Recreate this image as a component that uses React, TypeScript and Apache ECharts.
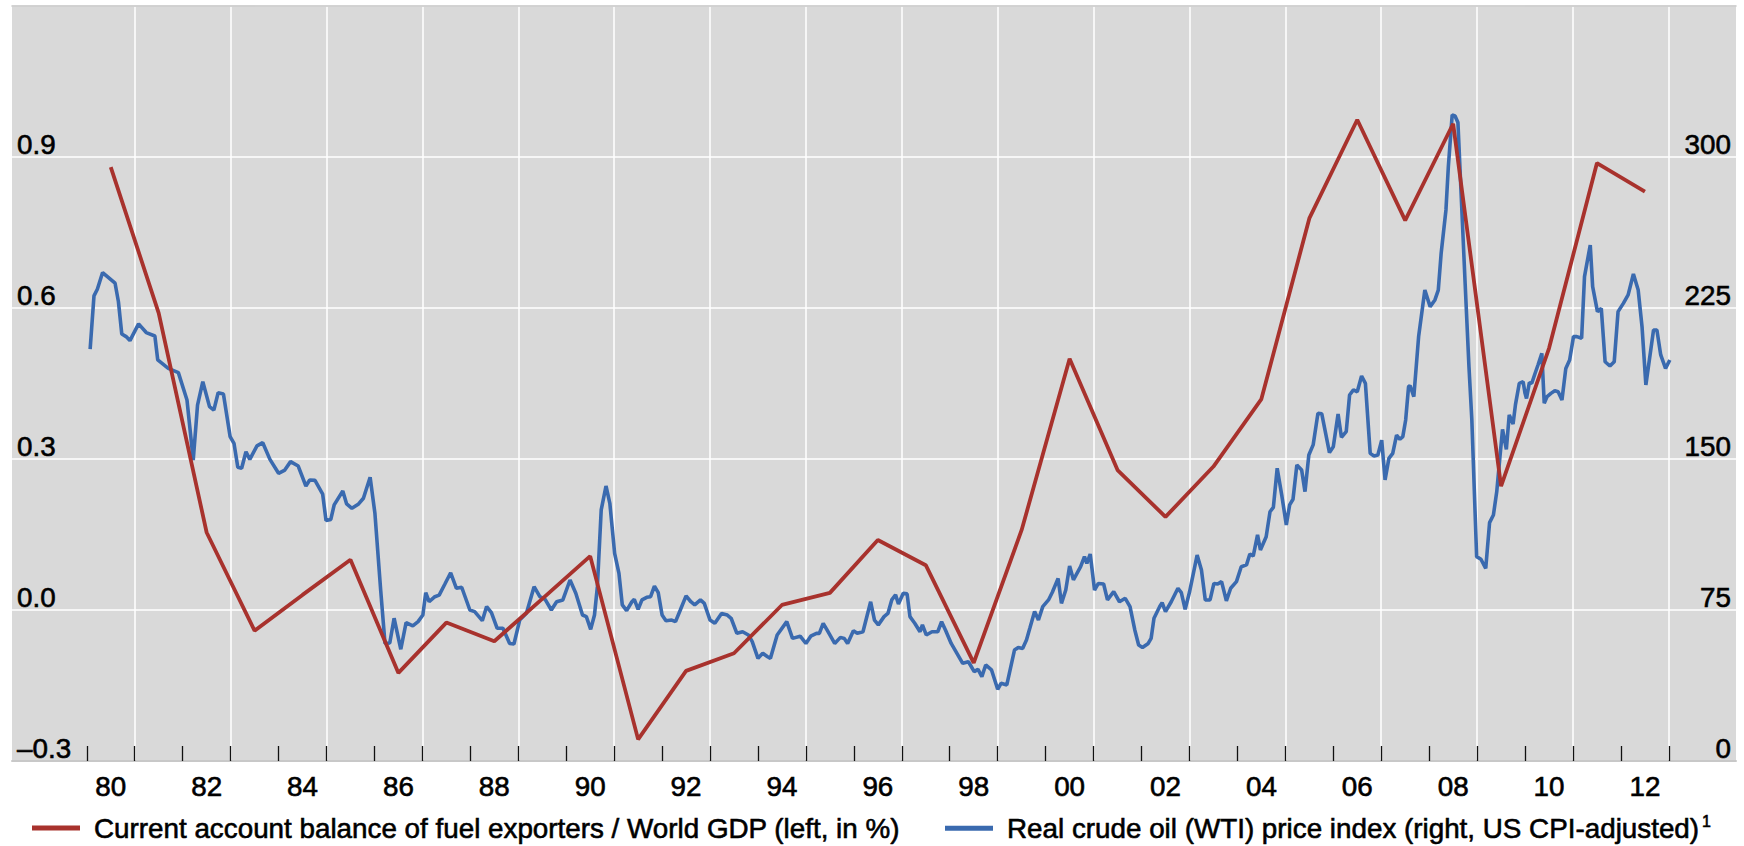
import React, { useEffect, useRef } from 'react';
import * as echarts from 'echarts';

// ---- Data -------------------------------------------------------------
const caName = 'Current account balance of fuel exporters / World GDP (left, in %)';
const oilName = 'Real crude oil (WTI) price index (right, US CPI-adjusted)';

const caYears = [1980, 1981, 1982, 1983, 1984, 1985, 1986, 1987, 1988, 1989, 1990, 1991, 1992, 1993, 1994, 1995, 1996,
  1997, 1998, 1999, 2000, 2001, 2002, 2003, 2004, 2005, 2006, 2007, 2008, 2009, 2010, 2011, 2012];
const caBalance = [0.88, 0.59, 0.154, -0.041, 0.03, 0.1, -0.125, -0.025, -0.062, 0.022, 0.107, -0.257, -0.121, -0.086,
  0.01, 0.034, 0.139, 0.089, -0.105, 0.159, 0.499, 0.278, 0.185, 0.285, 0.419, 0.778, 0.974, 0.774, 0.966, 0.246, 0.52,
  0.888, 0.831];

// Real crude oil price index: [decimal year, index]
const oil1980s: [number, number][] = [
  [1980.07, 204.6], [1980.15, 231.0], [1980.22, 234.3], [1980.33, 242.6], [1980.59, 237.3], [1980.66, 228.1],
  [1980.73, 212.1], [1980.82, 210.8], [1980.9, 208.8], [1981.08, 217.1], [1981.24, 212.8], [1981.42, 211.1],
  [1981.48, 199.2], [1981.7, 195.0], [1981.91, 192.9], [1982.09, 179.3], [1982.22, 149.5], [1982.31, 176.8],
  [1982.42, 188.4], [1982.56, 176.0], [1982.65, 174.3], [1982.74, 182.9], [1982.85, 182.3], [1982.99, 161.1],
  [1983.07, 157.8], [1983.15, 145.9], [1983.23, 145.4], [1983.32, 153.6], [1983.4, 149.8], [1983.55, 156.5],
  [1983.67, 158.1], [1983.82, 149.8], [1984.0, 142.9], [1984.13, 144.5], [1984.25, 148.7], [1984.41, 146.5],
  [1984.57, 136.6], [1984.65, 139.6], [1984.76, 139.4], [1984.92, 132.6], [1984.99, 119.4], [1985.09, 120.0],
  [1985.16, 127.2], [1985.34, 134.1], [1985.42, 127.7], [1985.53, 125.5], [1985.67, 127.7], [1985.77, 130.5],
  [1985.91, 140.9], [1986.01, 123.0], [1986.13, 84.9], [1986.22, 58.4], [1986.32, 58.6], [1986.41, 70.9],
  [1986.55, 55.5], [1986.66, 68.7], [1986.8, 67.1], [1986.91, 69.2], [1987.01, 72.5], [1987.07, 83.6],
  [1987.14, 79.1], [1987.26, 81.6], [1987.35, 82.4], [1987.47, 87.9], [1987.59, 93.5], [1987.71, 85.8],
  [1987.82, 86.3], [1987.99, 75.0], [1988.09, 74.2], [1988.25, 69.7], [1988.34, 76.7], [1988.44, 73.7],
  [1988.56, 65.9], [1988.68, 65.9], [1988.82, 58.4], [1988.91, 58.1], [1989.03, 70.0], [1989.17, 73.4],
  [1989.33, 86.6], [1989.45, 81.6], [1989.56, 80.3], [1989.69, 75.0], [1989.8, 79.1], [1989.93, 80.0],
];
const oil1990s: [number, number][] = [
  [1990.08, 89.9], [1990.2, 83.3], [1990.34, 72.5], [1990.42, 71.7], [1990.51, 65.4], [1990.59, 72.5],
  [1990.65, 86.6], [1990.73, 124.7], [1990.83, 136.6], [1990.91, 128.0], [1991.01, 103.1], [1991.1, 93.2],
  [1991.17, 77.5], [1991.26, 74.7], [1991.37, 79.1], [1991.42, 80.3], [1991.5, 75.3], [1991.58, 80.0],
  [1991.68, 81.3], [1991.76, 81.6], [1991.84, 86.9], [1991.92, 83.6], [1992.0, 72.5], [1992.08, 69.7],
  [1992.2, 70.0], [1992.28, 69.2], [1992.38, 75.0], [1992.5, 82.0], [1992.6, 79.1], [1992.68, 77.5],
  [1992.8, 80.0], [1992.88, 78.3], [1993.0, 70.0], [1993.1, 68.4], [1993.24, 73.3], [1993.36, 72.5],
  [1993.44, 70.9], [1993.56, 63.4], [1993.68, 64.2], [1993.8, 62.6], [1993.88, 59.3], [1994.0, 51.0],
  [1994.1, 53.5], [1994.2, 51.8], [1994.26, 51.0], [1994.4, 62.6], [1994.6, 69.2], [1994.72, 60.9],
  [1994.88, 62.0], [1995.0, 58.4], [1995.1, 62.0], [1995.22, 63.4], [1995.28, 63.4], [1995.36, 68.4],
  [1995.44, 65.1], [1995.6, 58.4], [1995.72, 61.4], [1995.8, 60.9], [1995.87, 58.4], [1995.99, 64.7],
  [1996.07, 63.4], [1996.19, 64.2], [1996.35, 79.1], [1996.43, 70.0], [1996.51, 67.6], [1996.63, 71.7],
  [1996.71, 73.3], [1996.79, 80.0], [1996.87, 82.5], [1996.93, 78.0], [1997.03, 83.3], [1997.11, 83.0],
  [1997.17, 71.7], [1997.27, 68.4], [1997.38, 64.2], [1997.43, 67.6], [1997.51, 62.6], [1997.63, 64.2],
  [1997.75, 64.2], [1997.83, 69.2], [1997.91, 65.1], [1998.03, 58.4], [1998.15, 53.5], [1998.27, 48.5],
  [1998.39, 49.3], [1998.51, 44.4], [1998.59, 45.5], [1998.67, 41.9], [1998.75, 47.7], [1998.87, 45.3],
  [1999.0, 35.6], [1999.07, 38.6], [1999.19, 37.8], [1999.35, 55.1], [1999.43, 56.4], [1999.52, 55.9],
  [1999.6, 60.1], [1999.67, 65.9], [1999.77, 74.2], [1999.85, 70.0], [1999.94, 76.7],
];
const oil2000s: [number, number][] = [
  [2000.06, 80.0], [2000.14, 83.8], [2000.26, 90.7], [2000.33, 78.3], [2000.42, 84.9], [2000.5, 96.9],
  [2000.58, 90.0], [2000.73, 96.5], [2000.81, 101.5], [2000.86, 98.2], [2000.93, 102.8], [2001.02, 84.9],
  [2001.1, 88.2], [2001.21, 87.9], [2001.29, 80.0], [2001.42, 84.1], [2001.54, 79.1], [2001.66, 80.8],
  [2001.76, 76.7], [2001.86, 65.1], [2001.94, 57.6], [2002.02, 56.4], [2002.14, 58.4], [2002.2, 60.9],
  [2002.26, 70.9], [2002.38, 76.7], [2002.43, 78.6], [2002.5, 74.2], [2002.62, 79.1], [2002.76, 85.8],
  [2002.83, 83.6], [2002.91, 75.3], [2003.0, 83.8], [2003.16, 102.3], [2003.25, 94.9], [2003.33, 80.0],
  [2003.43, 80.0], [2003.51, 88.2], [2003.59, 87.9], [2003.67, 89.1], [2003.77, 79.5], [2003.86, 85.8],
  [2003.98, 89.1], [2004.08, 96.5], [2004.19, 97.4], [2004.26, 102.8], [2004.33, 101.8], [2004.42, 112.3],
  [2004.48, 104.8], [2004.6, 111.4], [2004.68, 123.8], [2004.75, 126.0], [2004.83, 145.4], [2004.93, 131.3],
  [2005.02, 117.2], [2005.09, 127.2], [2005.16, 130.0], [2005.24, 147.0], [2005.34, 144.5], [2005.41, 133.8],
  [2005.49, 152.0], [2005.58, 157.0], [2005.68, 172.7], [2005.76, 172.4], [2005.92, 153.2], [2006.0, 156.1],
  [2006.1, 172.3], [2006.17, 160.8], [2006.27, 163.6], [2006.34, 181.8], [2006.42, 184.3], [2006.5, 183.4],
  [2006.59, 191.2], [2006.67, 187.6], [2006.77, 152.8], [2006.85, 151.5], [2006.93, 152.0], [2007.01, 159.4],
  [2007.08, 139.6], [2007.16, 150.3], [2007.24, 152.8], [2007.32, 161.9], [2007.39, 159.8], [2007.45, 161.1],
  [2007.51, 169.4], [2007.57, 185.9], [2007.6, 186.5], [2007.68, 181.0], [2007.78, 210.8], [2007.91, 233.9],
  [2008.02, 225.7], [2008.12, 229.0], [2008.19, 233.9], [2008.25, 252.2], [2008.35, 273.7], [2008.4, 295.2],
  [2008.48, 320.9], [2008.54, 320.4], [2008.6, 317.1], [2008.75, 237.3], [2008.83, 195.9], [2008.89, 169.4],
  [2008.99, 101.5], [2009.08, 100.2], [2009.18, 95.7], [2009.26, 118.4], [2009.34, 122.2], [2009.41, 133.8],
  [2009.47, 149.5], [2009.53, 164.7], [2009.61, 154.8], [2009.67, 171.9], [2009.75, 167.4], [2009.8, 177.0],
  [2009.88, 187.6], [2009.96, 188.4],
];
const oil2010s: [number, number][] = [
  [2010.0, 182.6], [2010.03, 180.1], [2010.09, 187.9], [2010.14, 187.6], [2010.21, 192.6], [2010.27, 196.7],
  [2010.35, 202.5], [2010.4, 177.7], [2010.46, 181.0], [2010.54, 182.6], [2010.62, 183.9], [2010.69, 183.4],
  [2010.77, 179.3], [2010.85, 195.0], [2010.93, 199.2], [2011.01, 210.8], [2011.08, 210.8], [2011.18, 210.0],
  [2011.24, 240.6], [2011.36, 256.3], [2011.41, 235.6], [2011.51, 223.2], [2011.59, 224.8], [2011.67, 198.3],
  [2011.77, 196.2], [2011.86, 198.3], [2011.94, 223.2], [2012.05, 227.3], [2012.15, 231.5], [2012.26, 241.9],
  [2012.36, 233.9], [2012.44, 215.7], [2012.52, 186.8], [2012.68, 214.1], [2012.75, 214.1], [2012.83, 201.7],
  [2012.93, 195.0], [2013.02, 199.2],
];

// Axis tick labels
const xLabelYears = [1980, 1982, 1984, 1986, 1988, 1990, 1992, 1994, 1996, 1998, 2000, 2002, 2004, 2006, 2008, 2010, 2012];
const xLabelTexts = ['80', '82', '84', '86', '88', '90', '92', '94', '96', '98', '00', '02', '04', '06', '08', '10', '12'];
const tickYears = [1980, 1981, 1982, 1983, 1984, 1985, 1986, 1987, 1988, 1989, 1990, 1991, 1992, 1993, 1994, 1995, 1996,
  1997, 1998, 1999, 2000, 2001, 2002, 2003, 2004, 2005, 2006, 2007, 2008, 2009, 2010, 2011, 2012, 2013];
const gridYears = [1981, 1983, 1985, 1987, 1989, 1991, 1993, 1995, 1997, 1999, 2001, 2003, 2005, 2007, 2009, 2011, 2013];

// ---- Styling constants ------------------------------------------------
const FONT = 'Liberation Sans, Arial, Helvetica, sans-serif';
const FS = 27.8;
const RED = '#a8322d';
const BLUE = '#3a6aaf';
const X_MIN = 1978.44;
const X_MAX = 2014.4;
const heavy = { textBorderColor: '#000', textBorderWidth: 0.6 };

export default function App() {
  const ref = useRef<HTMLDivElement>(null);

  useEffect(() => {
    if (!ref.current) return;
    const chart = echarts.init(ref.current, undefined, { renderer: 'svg' });

    const caData = caYears.map((y, i) => [y + 0.5, caBalance[i]]);
    const oilData = [...oil1980s, ...oil1990s, ...oil2000s, ...oil2010s];

    const labelMap: Record<string, string> = {};
    xLabelYears.forEach((y, i) => { labelMap[(y + 0.5).toFixed(1)] = xLabelTexts[i]; });

    const option: any = {
      animation: false,
      backgroundColor: '#ffffff',
      textStyle: { fontFamily: FONT },
      grid: {
        left: 12, right: 8, top: 6, bottom: 85,
        show: true, backgroundColor: '#d9d9d9', borderWidth: 0,
        containLabel: false, outerBoundsMode: 'none',
      },
      legend: [
        {
          data: [caName], left: 32, top: 813, padding: 0,
          itemWidth: 48, itemHeight: 5, icon: 'rect', selectedMode: false,
          textStyle: { fontSize: FS, fontFamily: FONT, color: '#000', lineHeight: 30, padding: [0, 0, 0, 9], ...heavy },
        },
        {
          data: [oilName], left: 945, top: 813, padding: 0,
          itemWidth: 48, itemHeight: 5, icon: 'rect', selectedMode: false,
          formatter: (n: string) => `{t|${n}}{s|1}`,
          textStyle: {
            fontSize: FS, fontFamily: FONT, color: '#000', lineHeight: 30, padding: [0, 0, 0, 9],
            rich: {
              t: { fontSize: FS, fontFamily: FONT, color: '#000', lineHeight: 30, ...heavy },
              s: { fontSize: 16, fontFamily: FONT, color: '#000', lineHeight: 8, verticalAlign: 'top', padding: [0, 0, 0, 3], ...heavy },
            },
          },
        },
      ],
      xAxis: [
        {
          type: 'value', min: X_MIN, max: X_MAX, position: 'bottom',
          axisLine: { show: true, onZero: false, lineStyle: { color: '#c8c8c8', width: 2 } },
          axisTick: { show: true, inside: true, length: 15, customValues: tickYears, lineStyle: { color: '#111', width: 1.3 } },
          axisLabel: {
            show: true, customValues: xLabelYears.map((y) => y + 0.5), margin: 11,
            fontSize: FS, fontFamily: FONT, color: '#000', ...heavy,
            formatter: (v: number) => labelMap[v.toFixed(1)] ?? '',
          },
          splitLine: { show: false },
        },
        {
          type: 'value', min: X_MIN, max: X_MAX, position: 'top',
          axisLine: { show: true, onZero: false, lineStyle: { color: '#c4c4c4', width: 1.5 } },
          axisTick: { show: false, customValues: gridYears },
          axisLabel: { show: false },
          splitLine: { show: true, lineStyle: { color: '#ffffff', width: 1.5 } },
        },
      ],
      yAxis: [
        {
          type: 'value', min: -0.3, max: 1.2, interval: 0.3, position: 'left',
          axisLine: { show: false }, axisTick: { show: false },
          splitLine: { show: true, lineStyle: { color: '#ffffff', width: 1.5 } },
          axisLabel: {
            inside: true, margin: 5, fontSize: FS, fontFamily: FONT, color: '#000', ...heavy,
            verticalAlign: 'bottom', lineHeight: 25, showMinLabel: true,
            formatter: (v: number) => {
              if (Math.abs(v - 1.2) < 1e-6) return '';
              if (Math.abs(v) < 1e-9) return '0.0';
              return v.toFixed(1).replace('-', '\u2013');
            },
          },
        },
        {
          type: 'value', min: 0, max: 375, interval: 75, position: 'right',
          axisLine: { show: false }, axisTick: { show: false }, splitLine: { show: false },
          axisLabel: {
            inside: true, margin: 5, fontSize: FS, fontFamily: FONT, color: '#000', ...heavy,
            verticalAlign: 'bottom', lineHeight: 25, showMinLabel: true,
            formatter: (v: number) => (v >= 375 ? '' : String(v)),
          },
        },
      ],
      series: [
        {
          name: oilName, type: 'line', xAxisIndex: 0, yAxisIndex: 1, data: oilData,
          showSymbol: false, symbol: 'none', silent: true,
          lineStyle: { color: BLUE, width: 3.6 }, itemStyle: { color: BLUE },
        },
        {
          name: caName, type: 'line', xAxisIndex: 0, yAxisIndex: 0, data: caData,
          showSymbol: false, symbol: 'none', silent: true,
          lineStyle: { color: RED, width: 3.8 }, itemStyle: { color: RED },
        },
      ],
    };

    chart.setOption(option);
    return () => chart.dispose();
  }, []);

  return (
    <div
      ref={ref}
      style={{ position: 'absolute', left: 0, top: 0, width: 1744, height: 846, background: '#fff' }}
    />
  );
}
